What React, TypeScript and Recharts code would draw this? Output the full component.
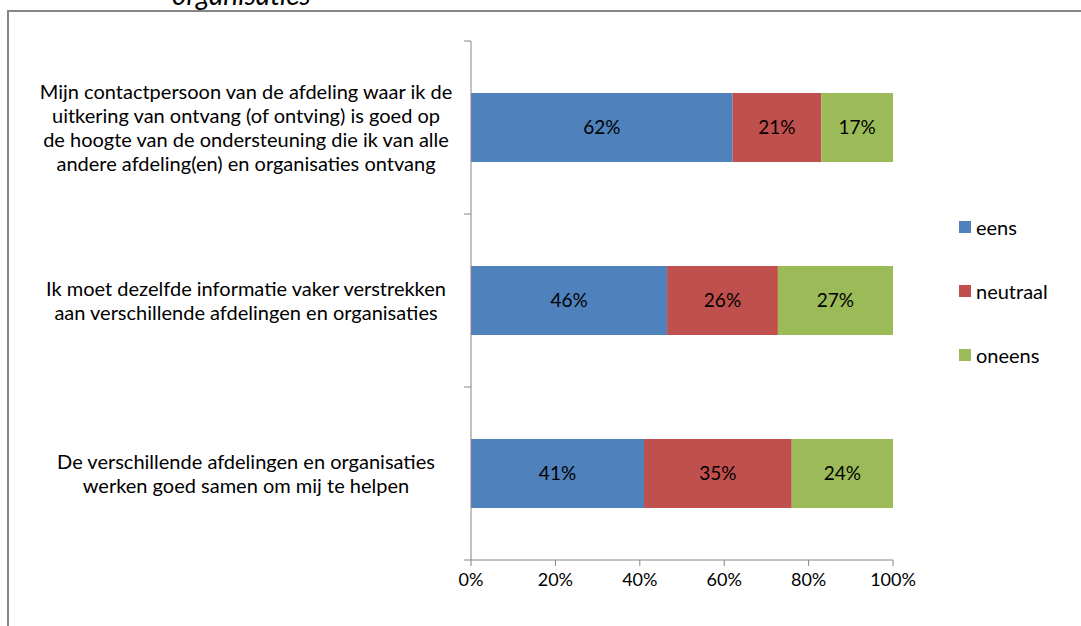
import { BarChart, Bar, XAxis, YAxis, LabelList } from "recharts";

const categories = [
  "Mijn contactpersoon van de afdeling waar ik de\nuitkering van ontvang (of ontving) is goed op\nde hoogte van de ondersteuning die ik van alle\nandere afdeling(en) en organisaties ontvang",
  "Ik moet dezelfde informatie vaker verstrekken\naan verschillende afdelingen en organisaties",
  "De verschillende afdelingen en organisaties\nwerken goed samen om mij te helpen",
];
const eens = [62, 46, 41];
const neutraal = [21, 26, 35];
const oneens = [17, 27, 24];
const xTicks = [0, 0.2, 0.4, 0.6, 0.8, 1];

const series = [
  { key: "eens", color: "#4F81BD" },
  { key: "neutraal", color: "#C0504D" },
  { key: "oneens", color: "#9BBB59" },
];

const data = categories.map((name, i) => ({
  name,
  eens: eens[i],
  neutraal: neutraal[i],
  oneens: oneens[i],
}));

const FONT = "Lato, 'Open Sans', sans-serif";
const AXIS = "#868686";
const PLOT_TOP = 41;
const PLOT_BOTTOM = 560;
const BAND = (PLOT_BOTTOM - PLOT_TOP) / categories.length;

function CategoryTick(props: any) {
  const { x, y, payload, index } = props;
  const axisX = x + 8;
  const lines = String(payload.value).split("\n");
  const lh = 24;
  return (
    <g>
      <line x1={axisX - 7} x2={axisX} y1={y - BAND / 2} y2={y - BAND / 2} stroke={AXIS} />
      {index === categories.length - 1 && (
        <line x1={axisX - 7} x2={axisX} y1={y + BAND / 2} y2={y + BAND / 2} stroke={AXIS} />
      )}
      <text textAnchor="middle" fontSize={20} fontFamily={FONT} fill="#000">
        {lines.map((l, i) => (
          <tspan key={i} x={246} y={y + (i - (lines.length - 1) / 2) * lh + 7}>
            {l}
          </tspan>
        ))}
      </text>
    </g>
  );
}

export default function App() {
  return (
    <div style={{ position: "absolute", left: 0, top: 0, width: 1081, height: 626, background: "#fff", overflow: "hidden" }}>
      <svg width={1081} height={626} style={{ position: "absolute", left: 0, top: 0 }}>
        <line x1={8} x2={8} y1={10} y2={626} stroke={AXIS} strokeWidth={2} />
        <line x1={7} x2={1081} y1={11} y2={11} stroke={AXIS} strokeWidth={2} />
        <text x={172} y={5} fontFamily={FONT} fontStyle="italic" fontSize={28} fill="#000">
          organisaties
        </text>
      </svg>
      <div style={{ position: "absolute", left: 0, top: 0 }}>
        <BarChart
          width={1081}
          height={626}
          data={data}
          layout="vertical"
          stackOffset="expand"
          barCategoryGap="30%"
          margin={{ top: PLOT_TOP, right: 188, bottom: 36, left: 0 }}
        >
          <XAxis
            type="number"
            domain={[0, 1]}
            ticks={xTicks}
            tickFormatter={(v) => `${Math.round(v * 100)}%`}
            stroke={AXIS}
            tickSize={6}
            tickMargin={7}
            height={30}
            interval={0}
            tick={{ fill: "#000", fontSize: 18, fontFamily: FONT }}
          />
          <YAxis
            type="category"
            dataKey="name"
            width={471}
            stroke={AXIS}
            tickLine={false}
            tickSize={0}
            tickMargin={8}
            interval={0}
            tick={<CategoryTick />}
          />
          {series.map((s) => (
            <Bar key={s.key} dataKey={s.key} stackId="a" fill={s.color} isAnimationActive={false}>
              <LabelList
                dataKey={s.key}
                position="center"
                formatter={(v: any) => `${v}%`}
                style={{ fill: "#000", fontSize: 19, fontFamily: FONT }}
              />
            </Bar>
          ))}
        </BarChart>
      </div>
      {series.map((s, i) => (
        <div
          key={s.key}
          style={{
            position: "absolute",
            left: 959,
            top: 227 + i * 64 - 12,
            height: 24,
            display: "flex",
            alignItems: "center",
            fontFamily: FONT,
            fontSize: 20,
            color: "#000",
          }}
        >
          <span style={{ width: 12, height: 12, background: s.color, display: "inline-block", marginRight: 5 }} />
          {s.key}
        </div>
      ))}
    </div>
  );
}
